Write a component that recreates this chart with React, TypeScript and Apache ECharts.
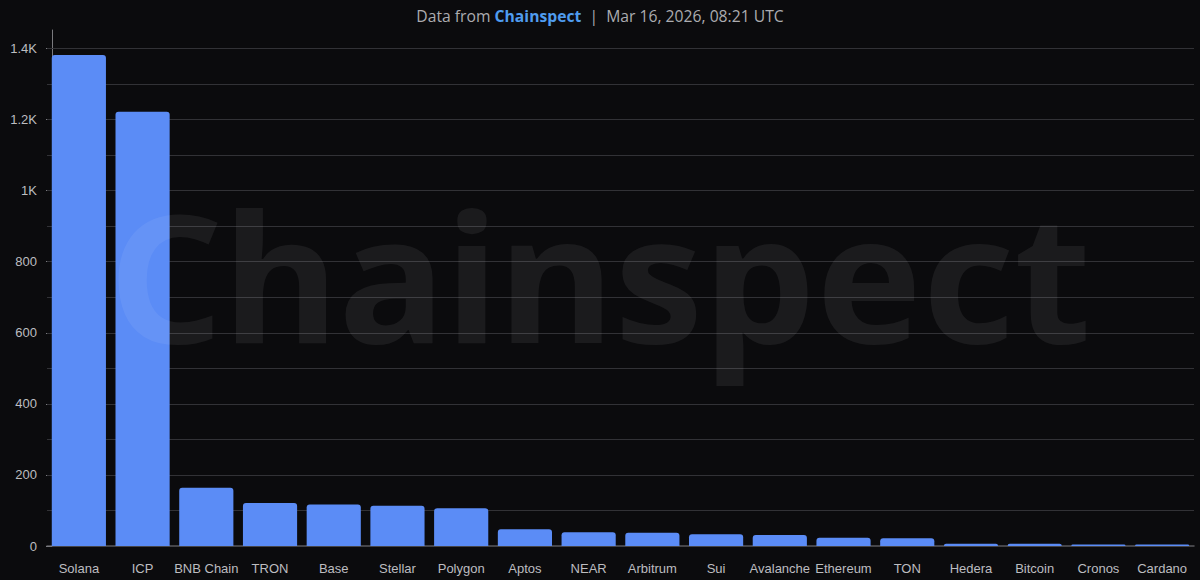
import React, { useEffect, useRef } from "react";
import * as echarts from "echarts";

const categories = [
  "Solana", "ICP", "BNB Chain", "TRON", "Base", "Stellar", "Polygon", "Aptos", "NEAR",
  "Arbitrum", "Sui", "Avalanche", "Ethereum", "TON", "Hedera", "Bitcoin", "Cronos", "Cardano",
];
const values = [1382, 1222, 164, 121, 117, 113, 106, 47, 39, 37, 33, 31, 23, 22, 6, 6, 4, 4];
const yMax = 1452;
const yLabelValues = [0, 200, 400, 600, 800, 1000, 1200, 1400];
const gridValues = [100, 200, 300, 400, 500, 600, 700, 800, 900, 1000, 1100, 1200, 1300, 1400];
const titleDate = "Mar 16, 2026, 08:21 UTC";
const brand = "Chainspect";

export default function App() {
  const ref = useRef<HTMLDivElement>(null);
  useEffect(() => {
    if (!ref.current) return;
    const chart = echarts.init(ref.current, undefined, { renderer: "svg" });
    const fmt = (v: number) => (v >= 1000 ? `${+(v / 1000).toFixed(1)}K` : `${v}`);
    chart.setOption({
      animation: false,
      backgroundColor: "#0b0b0d",
      title: {
        left: "center",
        top: 3,
        text: `{a|Data from }{b|${brand}}{a|  |  ${titleDate}}`,
        textStyle: {
          fontWeight: "normal",
          rich: {
            a: { fontFamily: "Open Sans", fontSize: 15.7, fontWeight: "normal", color: "#acacb0" },
            b: { fontFamily: "Open Sans", fontSize: 15.7, fontWeight: "bold", color: "#4f9cef" },
          },
        },
      },
      graphic: [
        {
          type: "text",
          left: "center",
          top: 185,
          z: 100,
          silent: true,
          style: {
            text: brand,
            fontFamily: "Noto Sans",
            fontWeight: "bold",
            fontSize: 178,
            fill: "rgba(255,255,255,0.065)",
          },
        },
      ],
      grid: { left: 47, right: 6, top: 30, bottom: 34 },
      xAxis: {
        type: "category",
        data: categories,
        axisLine: { lineStyle: { color: "#5a5a5e", width: 1.5 } },
        axisTick: { show: false },
        axisLabel: {
          interval: 0,
          color: "#bdbdc0",
          fontFamily: "Liberation Sans",
          fontSize: 13,
          margin: 16,
        },
      },
      yAxis: {
        type: "value",
        min: 0,
        max: yMax,
        interval: 200,
        offset: -5,
        axisLine: { show: true, lineStyle: { color: "#7a7a7e", width: 1 } },
        axisTick: { show: true, length: 6, customValues: yLabelValues, lineStyle: { color: "#7a7a7e" } },
        axisLabel: {
          customValues: yLabelValues,
          color: "#bdbdc0",
          fontFamily: "Liberation Sans",
          fontSize: 13,
          margin: 15,
          formatter: (v: number) => fmt(v),
        },
        splitLine: { show: false },
      },
      series: [
        {
          type: "line",
          data: [],
          z: 1,
          silent: true,
          markLine: {
            z: 1,
            silent: true,
            symbol: "none",
            label: { show: false },
            lineStyle: { color: "#323236", type: "solid", width: 1 },
            emphasis: { disabled: true },
            data: gridValues.map((v) => ({ yAxis: v })),
          },
        },
        {
          type: "bar",
          data: values,
          z: 2,
          barCategoryGap: "15%",
          itemStyle: { color: "#5b8cf6", borderRadius: [3, 3, 0, 0] },
        },
      ],
    });
    return () => chart.dispose();
  }, []);
  return (
    <div
      ref={ref}
      style={{ position: "fixed", left: 0, top: 0, width: 1200, height: 580 }}
    />
  );
}
